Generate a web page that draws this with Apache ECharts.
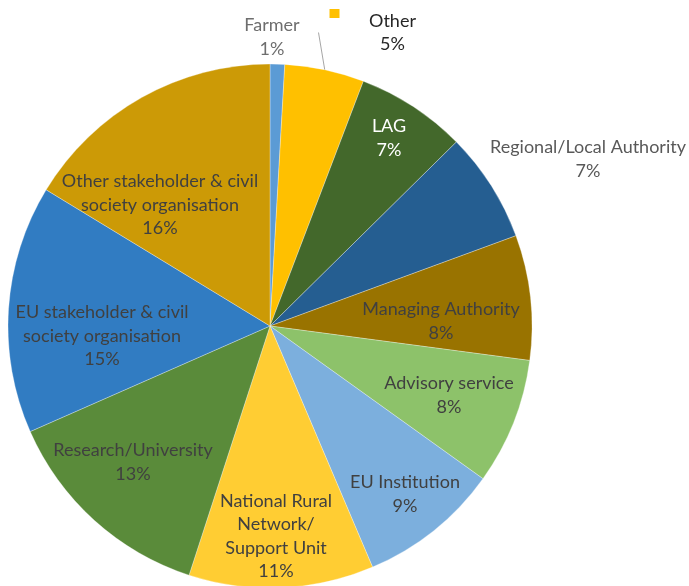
<!DOCTYPE html>
<html>
<head>
<meta charset="utf-8">
<script src="https://cdn.jsdelivr.net/npm/echarts@6/dist/echarts.min.js"></script>
<style>
html,body{margin:0;padding:0;background:#fff;}
#chart{width:689px;height:586px;}
</style>
</head>
<body>
<div id="chart"></div>
<script>
// ---- data ----
const categories = [
  'Farmer',
  'Other',
  'LAG',
  'Regional/Local Authority',
  'Managing Authority',
  'Advisory service',
  'EU Institution',
  'National Rural\nNetwork/\nSupport Unit',
  'Research/University',
  'EU stakeholder & civil\nsociety organisation',
  'Other stakeholder & civil\nsociety organisation'
];
const shares = [0.9, 4.9, 6.8, 6.8, 7.7, 7.8, 8.7, 11.4, 13.4, 15.3, 16.3];

// ---- styles ----
const sliceColors = ['#5B9BD5', '#FFC000', '#43682B', '#255E91', '#997300', '#8DC26A',
                     '#7CAFDD', '#FFCD33', '#5A8B3A', '#317CC2', '#CC9A06'];
const labelColors = ['#6E6E6E', '#262626', '#FFFFFF', '#595959', '#404040', '#404040',
                     '#404040', '#404040', '#404040', '#404040', '#404040'];
const outsideLabels = [0, 1, 3];
// label block offsets from pie centre (px)
const labelOffsets = [[2, -289], [104.5, -293.5], [119, -188], [318, -167], [171, -5], [179, 69],
                      [135, 168], [6, 210], [-137, 136], [-168, 10], [-110, -121]];
const CX = 270, CY = 326, R = 262;

const chart = echarts.init(document.getElementById('chart'), null, {renderer: 'canvas'});

const total = shares.reduce((a, b) => a + b, 0);
function midAngle(i) {
  let s = 0;
  for (let k = 0; k < i; k++) s += shares[k];
  return ((s + shares[i] / 2) / total) * Math.PI * 2;
}

const data = categories.map((name, i) => {
  const outside = outsideLabels.indexOf(i) >= 0;
  return {
    name: name,
    value: shares[i],
    itemStyle: {color: sliceColors[i]},
    label: {position: outside ? 'outside' : 'inside', color: labelColors[i]},
    labelLine: {show: i === 1, lineStyle: {color: '#A6A6A6', width: 1}}
  };
});

chart.setOption({
  animation: false,
  backgroundColor: '#ffffff',
  series: [{
    type: 'pie',
    center: [CX, CY],
    radius: R,
    startAngle: 90,
    clockwise: true,
    percentPrecision: 0,
    avoidLabelOverlap: false,
    itemStyle: {borderColor: 'rgba(255,255,255,0.6)', borderWidth: 0.5},
    label: {
      show: true,
      fontFamily: 'Lato',
      fontSize: 18,
      lineHeight: 23.5,
      align: 'center',
      formatter: function (p) {
        if (p.dataIndex === 1) {
          return '{g0|}{sq|}{g1|}{t|' + p.name + '}\n{g2|}{t|' + p.percent + '%}';
        }
        return p.name + '\n' + p.percent + '%';
      },
      rich: {
        g0: {width: 3, height: 1},
        sq: {width: 10, height: 9, backgroundColor: '#FFC000', verticalAlign: 'top'},
        g1: {width: 23, height: 1},
        g2: {width: 36, height: 1},
        t: {width: 60, align: 'center', fontFamily: 'Lato', fontSize: 18, lineHeight: 23.5, color: '#262626'}
      }
    },
    labelLayout: function (p) {
      const i = p.dataIndex;
      const o = labelOffsets[i];
      const res = {x: CX + o[0], y: CY + o[1], align: 'center', verticalAlign: 'middle'};
      if (i === 1) {
        const a = midAngle(i);
        res.labelLinePoints = [
          [CX + R * Math.sin(a), CY - R * Math.cos(a)],
          [CX + o[0] - 48 - 8, CY + o[1]]
        ];
      }
      return res;
    },
    data: data
  }]
});
</script>
</body>
</html>
